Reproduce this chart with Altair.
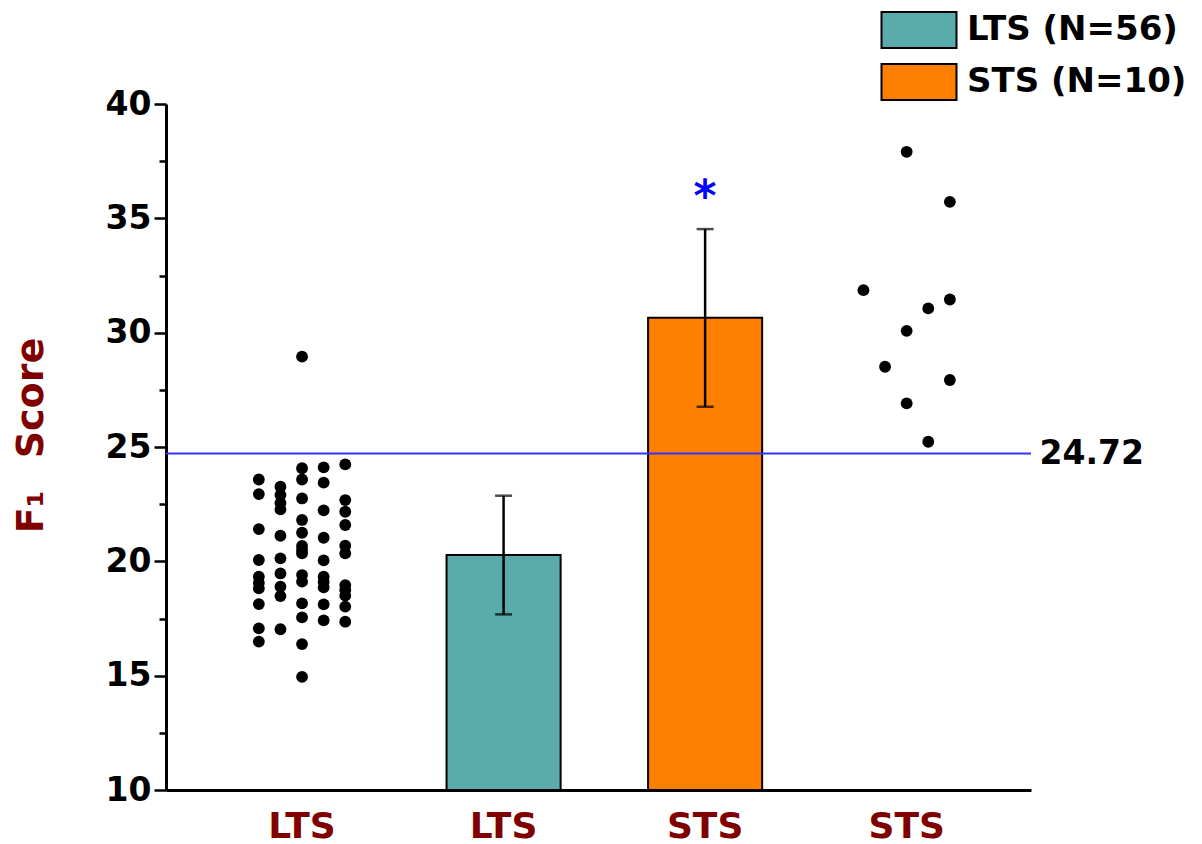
import altair as alt
import pandas as pd

# ---- data ----
categories = ["LTS points", "LTS", "STS", "STS points"]

# LTS individual scores, grouped by the scatter column they appear in (left -> right)
lts_col1 = [23.58, 22.94, 21.41, 20.06, 19.33, 19.05, 18.82, 18.13, 17.07, 16.49]
lts_col2 = [23.26, 22.90, 22.55, 22.27, 21.12, 20.13, 19.47, 18.89, 18.48, 17.03]
lts_col3 = [28.95, 24.07, 23.58, 22.75, 21.81, 21.25, 20.67, 20.50, 20.35, 19.40,
            19.11, 18.16, 17.55, 16.38, 14.95]
lts_col4 = [24.11, 23.44, 22.23, 21.03, 20.04, 19.33, 19.10, 18.86, 18.12, 17.42]
lts_col5 = [24.24, 22.68, 22.17, 21.59, 20.68, 20.35, 18.96, 18.75, 18.50, 18.02, 17.36]

# STS individual scores, by scatter column
sts_col1 = [31.86]
sts_col2 = [28.51]
sts_col3 = [37.91, 30.08, 26.91]
sts_col4 = [31.06, 25.23]
sts_col5 = [35.72, 31.45, 27.93]

bar_cats = ["LTS", "STS"]
bar_groups = ["LTS (N=56)", "STS (N=10)"]
bar_means = [20.28, 30.65]
err_low = [17.68, 26.76]
err_high = [22.87, 34.53]
significant = ["STS"]
threshold = 24.72
y_min = 10

y_ticks = [10, 12.5, 15, 17.5, 20, 22.5, 25, 27.5, 30, 32.5, 35, 37.5, 40]

# ---- tables ----
rows = []
for cat, cols in (("LTS points", [lts_col1, lts_col2, lts_col3, lts_col4, lts_col5]),
                  ("STS points", [sts_col1, sts_col2, sts_col3, sts_col4, sts_col5])):
    for ci, col in enumerate(cols):
        for v in col:
            rows.append({"cat": cat, "col": ci, "value": v})
points = pd.DataFrame(rows)

bars = pd.DataFrame({"cat": bar_cats, "group": bar_groups, "mean": bar_means,
                     "lo": err_low, "hi": err_high})
bars["sig"] = bars["cat"].isin(significant)
thr = pd.DataFrame({"t": [threshold]})

FONT = "DejaVu Sans"
DARKRED = "#800000"

yscale = alt.Scale(domain=[10, 40], nice=False, zero=False)
x_enc = alt.X(
    "cat:N",
    scale=alt.Scale(domain=categories, paddingInner=0.434, paddingOuter=0.363, align=0.54),
    axis=alt.Axis(
        title=None, labelAngle=0, ticks=False, domainColor="black", domainWidth=3,
        labelExpr="split(datum.label, ' ')[0]", labelColor=DARKRED, labelFont=FONT,
        labelFontWeight="bold", labelFontSize=36, labelPadding=19, grid=False,
    ),
)

bar_layer = alt.Chart(bars).mark_bar(stroke="black", strokeWidth=2, opacity=1).encode(
    x=x_enc,
    y=alt.Y("mean:Q", scale=yscale, axis=None),
    y2=alt.Y2Datum(y_min),
    fill=alt.Fill(
        "group:N",
        scale=alt.Scale(domain=bar_groups, range=["#5aacac", "#ff7f00"]),
        legend=alt.Legend(
            title=None, orient="none", legendX=733, legendY=-94, padding=0,
            symbolType="M-2,-0.96H2V0.96H-2Z", symbolSize=1406,
            symbolStrokeColor="black", symbolStrokeWidth=2, symbolOpacity=1,
            labelFont=FONT, labelFontWeight="bold", labelFontSize=34,
            labelColor="black", labelLimit=400, labelOffset=28, rowPadding=8,
        ),
    ),
)

err_rule = alt.Chart(bars).mark_rule(color="black", strokeWidth=2.5).encode(
    x=x_enc,
    y=alt.Y("lo:Q", scale=yscale, axis=None),
    y2="hi:Q",
)
cap_lo = alt.Chart(bars).mark_tick(color="black", thickness=2.5, size=17, orient="horizontal").encode(
    x=x_enc, y=alt.Y("lo:Q", scale=yscale, axis=None)
)
cap_hi = alt.Chart(bars).mark_tick(color="black", thickness=2.5, size=17, orient="horizontal").encode(
    x=x_enc, y=alt.Y("hi:Q", scale=yscale, axis=None)
)

star = alt.Chart(bars).transform_filter("datum.sig").mark_text(
    text="*", color="blue", fontSize=44, fontWeight="bold", font=FONT,
    baseline="middle", dy=-31,
).encode(x=x_enc, y=alt.Y("hi:Q", scale=yscale, axis=None))

dots = alt.Chart(points).mark_circle(size=140, color="black", opacity=1).encode(
    x=x_enc,
    xOffset=alt.XOffset("col:N", scale=alt.Scale(paddingInner=0, paddingOuter=0.64)),
    y=alt.Y(
        "value:Q", scale=yscale,
        axis=alt.Axis(
            values=y_ticks, orient="left", grid=False,
            labelExpr="datum.value % 5 === 0 ? datum.label : ''",
            tickSize={"condition": {"test": "datum.value % 5 === 0", "value": 12}, "value": 7},
            tickWidth=2.5, tickColor="black", domainColor="black", domainWidth=3,
            labelFont=FONT, labelFontWeight="bold", labelFontSize=33, labelColor="black",
            labelPadding=3,
            title="F\u2081\u2002 Score", titleColor=DARKRED, titleFont=FONT, titleFontWeight="bold",
            titleFontSize=38, titlePadding=55, titleY=331,
        ),
    ),
)

thr_rule = alt.Chart(thr).mark_rule(color="#3333ff", strokeWidth=2).encode(
    y=alt.Y(
        "t:Q", scale=yscale,
        axis=alt.Axis(
            orient="right", values=[threshold], format=".2f", domain=False, ticks=False,
            grid=False, labelFont=FONT, labelFontWeight="bold", labelFontSize=33,
            labelColor="black", labelPadding=8, title=None,
        ),
    )
)

chart = alt.layer(bar_layer, err_rule, cap_lo, cap_hi, star, dots, thr_rule).resolve_axis(
    y="independent"
).resolve_scale(y="shared", xOffset="independent").properties(
    width=865, height=686,
    padding={"left": 158, "top": 96, "right": 160, "bottom": 54},
    autosize=alt.AutoSizeParams(type="none"),
).configure(background="white").configure_view(stroke=None)

chart.save("out.html", embed_options={"renderer": "svg", "actions": False})
